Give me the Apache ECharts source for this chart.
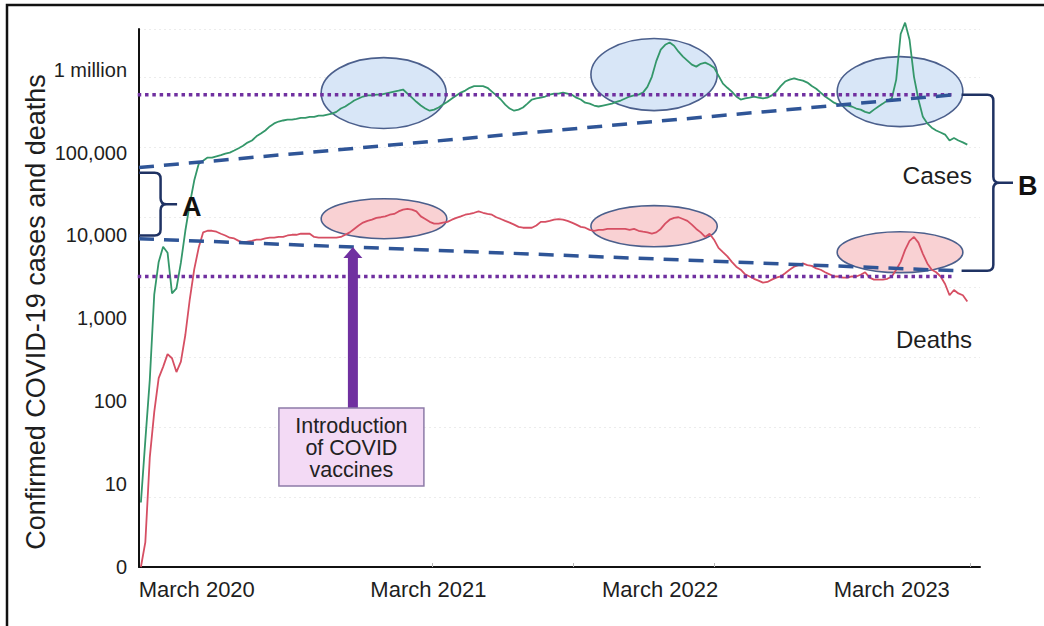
<!DOCTYPE html>
<html>
<head>
<meta charset="utf-8">
<style>
  html, body { margin: 0; padding: 0; background: #fff; }
  #chart { width: 1044px; height: 626px; }
</style>
<script src="https://cdn.jsdelivr.net/npm/echarts@6/dist/echarts.min.js"></script>
</head>
<body>
<div id="chart"></div>
<script>
// Weekly 7-day averages of confirmed COVID-19 cases and deaths (log scale)
const seriesStart = '2019-12-04';
const caseValues = [
  6, 34, 181, 1930, 4800, 7300, 6200, 2000, 2300, 4700,
  11400, 24000, 46000, 73000, 80000, 87000, 87000, 90000, 93000, 97000,
  100000, 106000, 113000, 121000, 132000, 140000, 157000, 170000, 185000, 207000,
  225000, 237000, 244000, 250000, 250000, 256000, 263000, 263000, 270000, 270000,
  280000, 280000, 288000, 295000, 310000, 340000, 360000, 390000, 425000, 450000,
  475000, 490000, 490000, 500000, 500000, 515000, 530000, 545000, 560000, 577000,
  515000, 460000, 410000, 370000, 340000, 320000, 330000, 350000, 380000, 410000,
  450000, 490000, 530000, 560000, 605000, 635000, 635000, 635000, 605000, 545000,
  490000, 437000, 380000, 340000, 320000, 330000, 350000, 390000, 437000, 450000,
  460000, 475000, 500000, 515000, 515000, 530000, 515000, 500000, 460000, 437000,
  400000, 390000, 370000, 360000, 370000, 380000, 390000, 410000, 425000, 450000,
  475000, 490000, 500000, 530000, 620000, 820000, 1270000, 1750000, 2000000, 2130000,
  1950000, 1650000, 1440000, 1290000, 1150000, 1090000, 1180000, 1220000, 1150000, 1060000,
  850000, 680000, 605000, 545000, 475000, 437000, 450000, 460000, 475000, 460000,
  450000, 460000, 490000, 545000, 635000, 720000, 760000, 785000, 760000, 740000,
  700000, 635000, 590000, 530000, 475000, 437000, 400000, 380000, 370000, 370000,
  360000, 340000, 330000, 310000, 300000, 330000, 360000, 390000, 425000, 450000,
  760000, 2700000, 3700000, 2300000, 820000, 437000, 270000, 225000, 200000, 185000,
  175000, 165000, 140000, 150000, 140000, 133000, 125000
];
const deathValues = [
  1, 2, 21, 74, 190, 260, 370, 330, 225, 300,
  630, 1700, 3900, 7100, 10900, 11400, 11400, 11100, 10500, 10000,
  9400, 9200, 8600, 8200, 8400, 8600, 8900, 8900, 9200, 9400,
  9400, 9600, 9600, 10000, 10200, 10200, 10500, 10500, 10500, 9600,
  9400, 9400, 9400, 9400, 9400, 9600, 10200, 10900, 12000, 13200,
  14300, 15000, 15500, 16300, 16600, 17000, 17800, 18200, 19500, 20500,
  21000, 20500, 19500, 17000, 15800, 14600, 13900, 13900, 14300, 14600,
  15500, 16300, 17000, 17800, 18200, 18800, 19500, 18800, 18200, 17800,
  16600, 15800, 15000, 14300, 13500, 12700, 12400, 12400, 12400, 13200,
  14600, 14600, 15000, 15500, 15800, 15500, 15000, 14300, 13500, 12700,
  12400, 11700, 11400, 11700, 11700, 12000, 12000, 12000, 12000, 12000,
  11700, 12000, 11400, 11100, 10900, 10500, 10900, 12000, 13900, 15500,
  16300, 16600, 15800, 15000, 13500, 12000, 10900, 9600, 10500, 8900,
  7100, 6300, 5600, 4800, 4200, 3860, 3400, 3200, 3000, 2850,
  2700, 2750, 2930, 3100, 3200, 3500, 3860, 4200, 4400, 4600,
  4400, 4300, 4000, 3860, 3600, 3400, 3200, 3200, 3100, 3100,
  3200, 3200, 3360, 3600, 3100, 2930, 2930, 2930, 3000, 3200,
  3860, 4800, 6700, 8600, 9600, 8200, 6000, 4600, 3860, 3600,
  3200, 2600, 1900, 2200, 2000, 1900, 1600
];

// Axis text
const yTickLabels = ['0', '10', '100', '1,000', '10,000', '100,000', '1 million'];
const xLabelDates = ['2020-03-01', '2021-03-01', '2022-03-01', '2023-03-01'];
const xTickDates = ['2021-03-07', '2021-10-15', '2022-05-25', '2023-07-02'];
const xRange = ['2019-12-01', '2023-07-18'];
const yRange = [1, 3100000];

// Trend lines (start, end) and reference levels
const trendDates = ['2019-12-01', '2023-06-09'];
const caseTrend = [66000, 500000];
const deathTrend = [9150, 3760];
const levelDates = ['2019-11-06', '2023-06-09'];
const caseLevel = 500000;
const deathLevel = 3200;

// Highlighted waves: [from, to, low, high]
const caseWaves = [
  ['2020-09-13', '2021-03-29', 195000, 1400000],
  ['2021-11-12', '2022-05-30', 321000, 2380000],
  ['2022-12-05', '2023-06-21', 206000, 1440000]
];
const deathWaves = [
  ['2020-09-13', '2021-03-30', 9150, 27800],
  ['2021-11-12', '2022-05-30', 7300, 22900],
  ['2022-12-05', '2023-06-21', 3560, 11100]
];

// Braces: [arm start, spine, tip, low, high]
const braces = [
  ['2019-12-01', '2020-01-04', '2020-01-30', 10000, 57000],
  ['2023-06-19', '2023-08-08', '2023-09-08', 3760, 500000]
];
const braceLabels = ['A', 'B'];

const vaccineDate = '2020-11-02';
const vaccineText = 'Introduction\nof COVID\nvaccines';

const FONT = "'Liberation Sans', Arial, Helvetica, sans-serif";
const WEEK = 7 * 86400000;

function day(s) {
  const p = s.split('-').map(Number);
  return new Date(p[0], p[1] - 1, p[2]).getTime();
}

const t0 = day(seriesStart);
const caseData = caseValues.map((v, i) => [t0 + i * WEEK, v]);
const deathData = deathValues.map((v, i) => [t0 + i * WEEK, v]);

const toRows = rows => rows.map(r => [day(r[0]), day(r[1]), r[2], r[3]]);

function waveRenderer(fill) {
  return function (params, api) {
    const a = api.coord([api.value(0), api.value(3)]);
    const b = api.coord([api.value(1), api.value(2)]);
    return {
      type: 'ellipse',
      shape: {
        cx: (a[0] + b[0]) / 2, cy: (a[1] + b[1]) / 2,
        rx: Math.abs(b[0] - a[0]) / 2, ry: Math.abs(b[1] - a[1]) / 2
      },
      style: { fill: fill, stroke: '#4B5F8C', lineWidth: 1.6 }
    };
  };
}

function braceRenderer(params, api) {
  const arm = api.coord([api.value(0), api.value(4)]);
  const top = api.coord([api.value(1), api.value(4)]);
  const bot = api.coord([api.value(1), api.value(3)]);
  const tip = api.coord([api.value(2), api.value(3)]);
  const L = arm[0], S = top[0], T = top[1], B = bot[1], N = tip[0];
  const M = (T + B) / 2, r = 6;
  const d = 'M' + L + ' ' + T + ' L' + (S - r) + ' ' + T +
    ' Q' + S + ' ' + T + ' ' + S + ' ' + (T + r) +
    ' L' + S + ' ' + (M - r) +
    ' Q' + S + ' ' + M + ' ' + (S + r) + ' ' + M +
    ' L' + N + ' ' + M +
    ' M' + (S + r) + ' ' + M +
    ' Q' + S + ' ' + M + ' ' + S + ' ' + (M + r) +
    ' L' + S + ' ' + (B - r) +
    ' Q' + S + ' ' + B + ' ' + (S - r) + ' ' + B +
    ' L' + L + ' ' + B;
  return {
    type: 'group',
    children: [
      { type: 'path', shape: { pathData: d },
        style: { fill: 'none', stroke: '#1F3263', lineWidth: 2.5 } },
      { type: 'text',
        style: { text: braceLabels[params.dataIndex], x: N + 5, y: M + 3,
          font: 'bold 27px ' + FONT, fill: '#111', align: 'left', verticalAlign: 'middle' } }
    ]
  };
}

function vaccineRenderer(params, api) {
  const a = api.coord([day(trendDates[0]), deathTrend[0]]);
  const b = api.coord([day(trendDates[1]), deathTrend[1]]);
  const x = api.coord([api.value(0), api.value(1)])[0];
  const y = a[1] + (b[1] - a[1]) * (x - a[0]) / (b[0] - a[0]);
  const head = 11, boxTop = y + 161;
  return {
    type: 'group',
    children: [
      { type: 'polygon', shape: { points: [[x, y], [x + 9.5, y + head], [x - 9.5, y + head]] },
        style: { fill: '#7030A0' } },
      { type: 'rect', shape: { x: x - 5, y: y + head - 1, width: 10, height: boxTop - y - head + 1 },
        style: { fill: '#7030A0' } },
      { type: 'rect', shape: { x: x - 74, y: boxTop, width: 145, height: 78 },
        style: { fill: '#F3DAF5', stroke: '#8D7BA8', lineWidth: 1.5 } },
      { type: 'text',
        style: { text: vaccineText, x: x - 1.5, y: boxTop + 40, font: '21.5px ' + FONT,
          fill: '#222', align: 'center', verticalAlign: 'middle', lineHeight: 22 } }
    ]
  };
}

function yLabel(v) {
  const e = Math.log10(v);
  const r = Math.round(e);
  if (Math.abs(e - r) > 1e-6) return '';
  return yTickLabels[r] || '';
}

const chart = echarts.init(document.getElementById('chart'), null, { renderer: 'svg' });

chart.setOption({
  animation: false,
  backgroundColor: '#fff',
  grid: { left: 139, top: 29, right: 64, bottom: 59 },
  xAxis: {
    // dates as millisecond timestamps on a linear axis
    type: 'value',
    min: day(xRange[0]),
    max: day(xRange[1]),
    axisLine: { lineStyle: { color: '#111', width: 2 } },
    axisTick: {
      show: true, inside: true, length: 4,
      customValues: xTickDates.map(day),
      lineStyle: { color: '#b8b8b8', width: 1 }
    },
    axisLabel: {
      customValues: xLabelDates.map(day),
      formatter: v => 'March ' + new Date(v).getFullYear(),
      fontFamily: FONT, fontSize: 22, color: '#1e1e1e', margin: 11
    },
    splitLine: { show: false }
  },
  yAxis: [
    {
      type: 'log', logBase: 10, min: yRange[0], max: yRange[1],
      axisLine: { show: true, lineStyle: { color: '#111', width: 2 } },
      axisTick: { show: false },
      splitLine: { show: false },
      axisLabel: {
        formatter: yLabel, showMaxLabel: false,
        fontFamily: FONT, fontSize: 20, color: '#1e1e1e', margin: 12
      }
    },
    {
      // faint background rulings
      type: 'value', min: 0, max: 7.686, interval: 1, position: 'right',
      axisLine: { show: false }, axisTick: { show: false }, axisLabel: { show: false },
      splitLine: { show: true, lineStyle: { color: '#ececec', width: 1, type: [2, 3] } }
    }
  ],
  series: [
    { type: 'custom', name: 'case waves', z: 1, renderItem: waveRenderer('#D8E6F7'),
      encode: { x: [0, 1], y: [2, 3] }, data: toRows(caseWaves) },
    { type: 'custom', name: 'death waves', z: 1, renderItem: waveRenderer('#F9D1D3'),
      encode: { x: [0, 1], y: [2, 3] }, data: toRows(deathWaves) },
    { type: 'line', name: 'Cases', z: 3, data: caseData, showSymbol: false, clip: false,
      lineStyle: { color: '#34976A', width: 1.8 }, itemStyle: { color: '#34976A' } },
    { type: 'line', name: 'Deaths', z: 3, data: deathData, showSymbol: false, clip: false,
      lineStyle: { color: '#D64F63', width: 1.8 }, itemStyle: { color: '#D64F63' } },
    { type: 'line', name: 'case level', z: 4, showSymbol: false, clip: false,
      data: levelDates.map(d => [day(d), caseLevel]),
      lineStyle: { color: '#7030A0', width: 3.5, type: [3.5, 3.8] } },
    { type: 'line', name: 'death level', z: 4, showSymbol: false, clip: false,
      data: levelDates.map(d => [day(d), deathLevel]),
      lineStyle: { color: '#7030A0', width: 3.5, type: [3.5, 3.8] } },
    { type: 'line', name: 'case trend', z: 5, showSymbol: false, clip: false,
      data: trendDates.map((d, i) => [day(d), caseTrend[i]]),
      lineStyle: { color: '#2F5597', width: 3.5, type: [15, 10] } },
    { type: 'line', name: 'death trend', z: 5, showSymbol: false, clip: false,
      data: trendDates.map((d, i) => [day(d), deathTrend[i]]),
      lineStyle: { color: '#2F5597', width: 3.5, type: [15, 10] } },
    { type: 'custom', name: 'braces', z: 6, renderItem: braceRenderer,
      encode: { x: [0, 1, 2], y: [3, 4] },
      data: braces.map(r => [day(r[0]), day(r[1]), day(r[2]), r[3], r[4]]) },
    { type: 'custom', name: 'vaccines', z: 6, renderItem: vaccineRenderer,
      encode: { x: 0, y: 1 }, data: [[day(vaccineDate), deathTrend[0]]] }
  ],
  graphic: [
    { type: 'polyline', silent: true,
      shape: { points: [[7, 626], [7, 5], [1044, 5]] },
      style: { stroke: '#111', lineWidth: 2.5, fill: null } },
    { type: 'text', x: 36, y: 312, rotation: Math.PI / 2, silent: true,
      style: { text: 'Confirmed COVID-19 cases and deaths', font: '27px ' + FONT,
        fill: '#1e1e1e', align: 'center', verticalAlign: 'middle' } },
    { type: 'text', x: 972, y: 175, silent: true,
      style: { text: 'Cases', font: '24.5px ' + FONT, fill: '#1e1e1e', align: 'right', verticalAlign: 'middle' } },
    { type: 'text', x: 972, y: 339, silent: true,
      style: { text: 'Deaths', font: '24px ' + FONT, fill: '#1e1e1e', align: 'right', verticalAlign: 'middle' } }
  ]
});
</script>
</body>
</html>
